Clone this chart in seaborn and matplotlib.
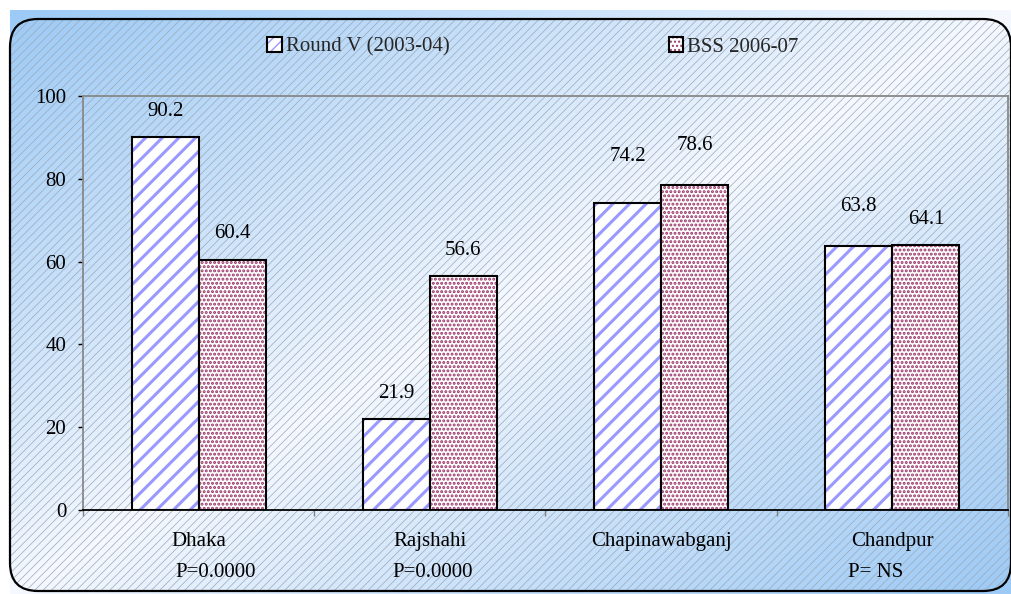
import numpy as np
import pandas as pd
import seaborn as sns
import matplotlib.pyplot as plt
import matplotlib.colors as mcolors
from matplotlib.patches import Patch, Rectangle, FancyBboxPatch

# data
districts = ['Dhaka', 'Rajshahi', 'Chapinawabganj', 'Chandpur']
round_v = [90.2, 21.9, 74.2, 63.8]
bss = [60.4, 56.6, 78.6, 64.1]
series = ['Round V (2003-04)', 'BSS 2006-07']
p_values = ['P=0.0000', 'P=0.0000', '', 'P= NS']

df = pd.DataFrame({
    'District': districts * 2,
    'Percent': round_v + bss,
    'Survey': [series[0]] * len(districts) + [series[1]] * len(districts),
})

sns.set_theme(style='white')
plt.rcParams['font.family'] = ['Liberation Serif', 'DejaVu Serif']
FS = 15

W, H = 1012, 594
fig = plt.figure(figsize=(W / 100, H / 100), dpi=100)
fig.patch.set_facecolor('white')

# background: diagonal blue-white-blue gradient with fine hatching
bg = fig.add_axes([0, 0, 1, 1], zorder=-10)
xx, yy = np.meshgrid(np.linspace(0, 1, 400), np.linspace(0, 1, 240))
s = np.abs((xx + yy) / 2 - 0.5) * 2
blue = np.array(mcolors.to_rgb('#9ccaf6'))
white = np.array(mcolors.to_rgb('#f6f9ff'))
img = white + (blue - white) * s[..., None] ** 0.9
bg.imshow(img, extent=(10, W, H, 10), aspect='auto', interpolation='bilinear')
bg.set_xlim(0, W)
bg.set_ylim(H, 0)
bg.axis('off')
hp = FancyBboxPatch((10, 19), 1001, 572, boxstyle='round,pad=0,rounding_size=28',
                    facecolor='none', edgecolor='#9ea7b4', lw=0, hatch='////')
if hasattr(hp, 'set_hatch_linewidth'):
    hp.set_hatch_linewidth(0.5)
bg.add_patch(hp)
bg.add_patch(FancyBboxPatch((10, 19), 1001, 572, boxstyle='round,pad=0,rounding_size=28',
                            facecolor='none', edgecolor='black', lw=1.6))

# plot area
ax = fig.add_axes([83 / W, 84 / H, 925 / W, 414 / H])
ax.set_facecolor('none')
sns.barplot(data=df, x='District', y='Percent', hue='Survey', palette=['white', 'white'],
            width=0.58, saturation=1, legend=False, ax=ax, zorder=2)

styles = [('#9999ff', '//', 2.2), ('#993366', '....', 1.45)]
offs = [[25, 26, 46, 39], [26, 25, 39, 25]]
bars = [p for p in ax.patches if isinstance(p, Rectangle)]
for i, bar in enumerate(bars):
    k = i // len(districts)
    color, hatch, hlw = styles[k]
    bar.set_facecolor('white')
    bar.set_edgecolor(color)
    bar.set_linewidth(0)
    bar.set_hatch(hatch)
    if hasattr(bar, 'set_hatch_linewidth'):
        bar.set_hatch_linewidth(hlw)
    ax.add_patch(Rectangle(bar.get_xy(), bar.get_width(), bar.get_height(), fill=False,
                           edgecolor='black', lw=1.5, zorder=3))
    v = bar.get_height()
    ax.annotate(f'{v:.1f}', xy=(bar.get_x() + bar.get_width() / 2, v),
                xytext=(0, offs[k][i % len(districts)]), textcoords='offset pixels',
                ha='center', va='center', fontsize=FS, color='black')

ax.set_xlim(-0.5, 3.5)
ax.set_ylim(0, 100)
ax.set_yticks(range(0, 101, 20))
ax.set_xlabel('')
ax.set_ylabel('')
ax.tick_params(axis='y', left=True, length=3.6, width=1, color='black', pad=8.5,
               labelsize=FS, labelcolor='black')
ax.tick_params(axis='x', which='major', length=0, pad=15.5, labelsize=FS, labelcolor='black')
ax.set_xticks(np.arange(-0.5, 4, 1), minor=True)
ax.tick_params(axis='x', which='minor', bottom=True, length=4, width=1, color='#808080')
for side in ['top', 'right', 'left']:
    ax.spines[side].set_color('#888888')
    ax.spines[side].set_linewidth(1.3)
ax.spines['bottom'].set_color('black')
ax.spines['bottom'].set_linewidth(1.3)

# p-values under the categories
p_x = [-0.10, 0.84, None, 2.81]
for txt, px in zip(p_values, p_x):
    if txt:
        ax.text(px, -0.152, txt, transform=ax.get_xaxis_transform(), ha='left', va='center',
                fontsize=FS, color='black')

# legend
handles = []
for color, hatch, hlw in styles:
    hf = Patch(facecolor='white', edgecolor=color, hatch=hatch.replace('//', '///'), lw=0)
    if hasattr(hf, 'set_hatch_linewidth'):
        hf.set_hatch_linewidth(hlw)
    handles.append((hf, Patch(fill=False, edgecolor='black', lw=1.5)))
fig.legend(handles, series, loc='center', bbox_to_anchor=(533 / W, 1 - 47 / H), ncol=2,
           frameon=False, handlelength=0.7, handleheight=0.7, handletextpad=0.2,
           columnspacing=10.5, fontsize=FS)

fig.savefig('out.png', dpi=100)
